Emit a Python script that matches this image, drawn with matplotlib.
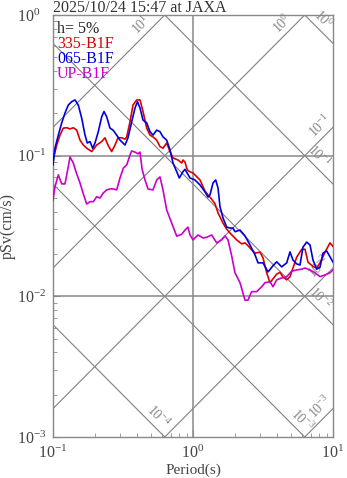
import numpy as np
import matplotlib
matplotlib.use("Agg")
import matplotlib.pyplot as plt
from matplotlib.ticker import NullFormatter

plt.rcParams['font.family'] = ['Liberation Serif', 'DejaVu Serif']
plt.rcParams['mathtext.default'] = 'regular'
plt.rcParams['axes.unicode_minus'] = False

# pseudo velocity response spectra, h=5%
t_335 = [0.100, 0.1063, 0.1122, 0.1184, 0.1253, 0.1322, 0.1396, 0.1477, 0.1559, 0.1646,
         0.1741, 0.1889, 0.2051, 0.2228, 0.2351, 0.2470, 0.2625, 0.2773, 0.2913, 0.3095,
         0.3268, 0.336, 0.3548, 0.3727, 0.3962, 0.4183, 0.4394, 0.467, 0.493, 0.518,
         0.5505, 0.5811, 0.6105, 0.6488, 0.685, 0.7197, 0.7815, 0.8305, 0.8483, 0.8767,
         0.91, 0.9519, 1.0, 1.068, 1.122, 1.218, 1.280, 1.36, 1.436, 1.509,
         1.638, 1.741, 1.837, 2.051, 2.228, 2.351, 2.470, 2.626, 2.773, 3.010,
         3.162, 3.360, 3.548, 3.727, 3.962, 4.183, 4.394, 4.670, 4.930, 5.18,
         5.505, 5.976, 6.31, 6.629, 7.197, 7.649, 8.076, 8.767, 9.519, 10.0]
sv_335 = [0.0932, 0.119, 0.140, 0.157, 0.158, 0.155, 0.158, 0.152, 0.129, 0.119,
          0.113, 0.107, 0.119, 0.126, 0.134, 0.119, 0.107, 0.119, 0.134, 0.134,
          0.131, 0.136, 0.174, 0.229, 0.249, 0.249, 0.206, 0.157, 0.140, 0.136,
          0.129, 0.116, 0.113, 0.123, 0.107, 0.0963, 0.0932, 0.0887, 0.0932, 0.090,
          0.0792, 0.0767, 0.0754, 0.0706, 0.0672, 0.056, 0.0526, 0.049, 0.0455, 0.0392,
          0.0332, 0.030, 0.0282, 0.0252, 0.0236, 0.0240, 0.0229, 0.0214, 0.0203, 0.0206,
          0.0188, 0.0147, 0.0125, 0.0133, 0.0144, 0.0148, 0.0137, 0.0131, 0.0138, 0.0159,
          0.0190, 0.0216, 0.0216, 0.0175, 0.0163, 0.0159, 0.0173, 0.0206, 0.0240, 0.0226]

t_065 = [0.100, 0.1033, 0.1091, 0.1154, 0.1218, 0.1286, 0.136, 0.1436, 0.1516, 0.1603,
         0.1693, 0.1758, 0.1837, 0.192, 0.1995, 0.2106, 0.2228, 0.2313, 0.2418, 0.2552,
         0.2683, 0.2851, 0.301, 0.3162, 0.3268, 0.3433, 0.3648, 0.3852, 0.4011, 0.4183,
         0.4394, 0.467, 0.493, 0.518, 0.5505, 0.5811, 0.6105, 0.6488, 0.685, 0.7197,
         0.7649, 0.7984, 0.8483, 0.8767, 0.9519, 1.033, 1.122, 1.218, 1.280, 1.322,
         1.390, 1.452, 1.509, 1.559, 1.638, 1.741, 1.837, 1.931, 1.995, 2.166,
         2.351, 2.552, 2.773, 2.913, 3.162, 3.433, 3.727, 3.962, 4.301, 4.670,
         4.930, 5.18, 5.505, 5.811, 6.105, 6.488, 6.85, 7.197, 7.649, 8.076,
         8.483, 9.016, 9.519, 10.0]
sv_065 = [0.0859, 0.113, 0.140, 0.171, 0.201, 0.229, 0.242, 0.249, 0.229, 0.185,
          0.140, 0.123, 0.126, 0.113, 0.123, 0.148, 0.189, 0.206, 0.189, 0.157,
          0.152, 0.140, 0.129, 0.123, 0.119, 0.134, 0.174, 0.218, 0.242, 0.218,
          0.179, 0.171, 0.148, 0.140, 0.152, 0.148, 0.136, 0.129, 0.110, 0.0887,
          0.0770, 0.0694, 0.0770, 0.080, 0.0694, 0.0672, 0.0619, 0.0553, 0.0508, 0.0526,
          0.0640, 0.0672, 0.0589, 0.0434, 0.0361, 0.031, 0.0306, 0.0306, 0.0288, 0.0296,
          0.0269, 0.0232, 0.0197, 0.0173, 0.0173, 0.0149, 0.0165, 0.0176, 0.0162, 0.0173,
          0.0207, 0.0181, 0.0170, 0.0167, 0.0224, 0.0243, 0.0232, 0.0181, 0.0156, 0.0161,
          0.0203, 0.0210, 0.0191, 0.0175]

t_up = [0.100, 0.1033, 0.1091, 0.1154, 0.1218, 0.1286, 0.1322, 0.1396, 0.1477, 0.1559,
        0.1646, 0.1741, 0.1837, 0.1941, 0.2051, 0.2166, 0.2287, 0.2418, 0.2552, 0.2701,
        0.2851, 0.301, 0.3185, 0.336, 0.3548, 0.3648, 0.3852, 0.4047, 0.4183, 0.433,
        0.4541, 0.4771, 0.518, 0.5505, 0.5811, 0.6105, 0.6488, 0.7044, 0.7649, 0.8305,
        0.8767, 0.921, 0.9519, 1.0, 1.086, 1.179, 1.253, 1.36, 1.477, 1.603,
        1.693, 1.778, 1.889, 1.995, 2.166, 2.351, 2.470, 2.626, 2.851, 3.095,
        3.268, 3.548, 3.727, 3.962, 4.301, 4.670, 5.07, 5.505, 5.976, 6.31,
        6.85, 7.438, 8.076, 8.767, 9.519, 10.0]
sv_up = [0.0484, 0.060, 0.0730, 0.063, 0.063, 0.0835, 0.098, 0.0887, 0.074, 0.0640,
         0.0535, 0.0453, 0.0471, 0.0471, 0.0511, 0.0500, 0.0543, 0.0571, 0.058, 0.058,
         0.0571, 0.0694, 0.0818, 0.0859, 0.101, 0.108, 0.106, 0.103, 0.106, 0.080,
         0.0672, 0.058, 0.0571, 0.0672, 0.0706, 0.0571, 0.0411, 0.0332, 0.0268, 0.0276,
         0.0296, 0.031, 0.0273, 0.0252, 0.0273, 0.0260, 0.0263, 0.0273, 0.0240, 0.0252,
         0.0269, 0.0252, 0.0194, 0.0147, 0.0125, 0.0094, 0.0094, 0.0108, 0.0108, 0.0117,
         0.0125, 0.0127, 0.0117, 0.0131, 0.0135, 0.0138, 0.0151, 0.0154, 0.0156, 0.0159,
         0.0154, 0.0147, 0.0138, 0.0142, 0.0147, 0.0154]

series_names = ['335-B1F', '065-B1F', 'UP-B1F']
series_colors = ['#dd0000', '#0000dd', '#cc00cc']

# tripartite guide lines: acceleration (cm/s2) and displacement (cm)
acc_levels = [10.0, 1.0, 0.1, 0.01, 0.001]
acc_labels = ['10^{1}', '10^{0}', '10^{-1}', '10^{-2}', '10^{-3}']
disp_levels = [1.0, 0.1, 0.01, 0.001, 0.0001]
disp_labels = ['10^{0}', '10^{-1}', '10^{-2}', '10^{-3}', '10^{-4}']

fig = plt.figure(figsize=(3.47, 4.78), dpi=100)
ax = fig.add_axes([53 / 347, 41 / 478, 280 / 347, 422 / 478])
ax.set_xscale('log')
ax.set_yscale('log')

gray = '#888888'
tt = np.array([0.1, 10.0])
for sa in acc_levels:
    ax.plot(tt, sa * tt / (2 * np.pi), color='#808080', lw=0.8, zorder=1)
for sd in disp_levels:
    ax.plot(tt, 2 * np.pi * sd / tt, color='#808080', lw=0.8, zorder=1)

# label positions along each guide line (period where label sits)
acc_lab_t = [0.48, 4.85, 9.1, 9.0, 9.1]
disp_lab_t = [7.6, 7.1, 7.2, 5.35, 0.5]
for sa, lab, tl in zip(acc_levels, acc_labels, acc_lab_t):
    ax.annotate('$' + lab + '$', (tl, sa * tl / (2 * np.pi)), xytext=(-5, 5),
                textcoords='offset points', rotation=45, ha='center', va='center',
                fontsize=10, color='#888888', zorder=1)
for sd, lab, tl in zip(disp_levels, disp_labels, disp_lab_t):
    ax.annotate('$' + lab + '$', (tl, 2 * np.pi * sd / tl), xytext=(5, 5),
                textcoords='offset points', rotation=-45, ha='center', va='center',
                fontsize=10, color='#888888', zorder=1)

ax.axvline(1.0, color=gray, lw=1.1, zorder=1)
ax.axhline(0.1, color=gray, lw=1.1, zorder=1)
ax.axhline(0.01, color=gray, lw=1.1, zorder=1)

for t, sv, c in zip([t_335, t_065, t_up], [sv_335, sv_065, sv_up], series_colors):
    ax.plot(t, sv, color=c, lw=1.2, zorder=3)

ax.set_xlim(0.1, 10)
ax.set_ylim(1e-3, 1)
ax.set_xticks([0.1, 1, 10])
ax.set_yticks([1e-3, 1e-2, 1e-1, 1])
ax.xaxis.set_minor_formatter(NullFormatter())
ax.yaxis.set_minor_formatter(NullFormatter())

for s in ax.spines.values():
    s.set_color(gray)
    s.set_linewidth(1.0)
ax.tick_params(which='both', direction='in', color=gray, labelcolor='#444444',
               labelsize=11.5, top=False, right=False)
ax.tick_params(which='major', length=5)
ax.tick_params(which='minor', length=3)
ax.tick_params(axis='x', pad=5.5)
ax.tick_params(axis='y', pad=26)
for tk in ax.yaxis.get_major_ticks():
    tk.label1.set_horizontalalignment('left')

ax.text(0.014, 0.967, 'h= 5%', transform=ax.transAxes, fontsize=11.5, color='#222222',
        va='center', ha='left')
for i, (name, c) in enumerate(zip(series_names, series_colors)):
    ax.text(0.014, 0.931 - i * 0.035, name, transform=ax.transAxes, fontsize=11.5,
            color=c, va='center', ha='left')

fig.text(53 / 347, 1 - 8 / 478, '2025/10/24 15:47 at JAXA', fontsize=11.5,
         color='#333333', ha='left', va='center')
fig.text(193 / 347, 1 - 470 / 478, 'Period(s)', fontsize=11, color='#444444',
         ha='center', va='center')
fig.text(8 / 347, 1 - 226 / 478, 'pSv(cm/s)', fontsize=11.5, color='#444444',
         ha='center', va='center', rotation=90)

fig.savefig('out.png', dpi=100)
